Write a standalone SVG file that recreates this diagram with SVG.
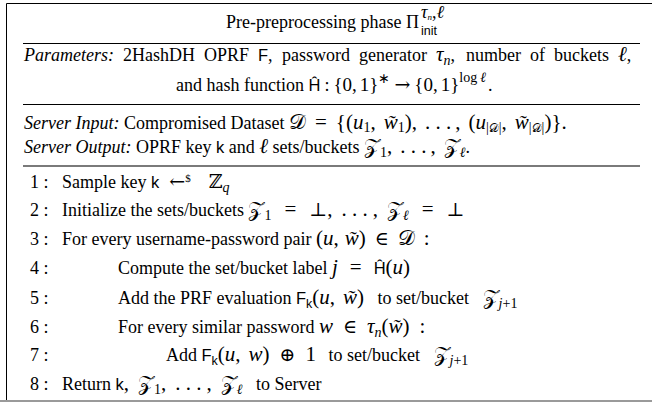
<svg xmlns="http://www.w3.org/2000/svg" width="652" height="402" viewBox="0 0 652 402">
<style>
text{font-family:"Liberation Serif","Times New Roman",serif;font-size:18px;fill:#000}
.it{font-style:italic}
.m{font-style:italic;font-size:21px}
.mr{font-size:21px;font-style:normal}
.mr2{font-size:19px;font-style:normal}
.sf{font-family:"Liberation Sans",Arial,sans-serif;font-size:16.5px;font-style:normal}
.sb{font-size:14px;font-style:normal}
.sbi{font-size:14px;font-style:italic}
.ssf{font-family:"Liberation Sans",Arial,sans-serif;font-size:12.5px;font-style:normal}
.cal{font-family:"DejaVu Serif","DejaVu Sans","Noto Sans",serif;font-style:normal;font-size:21px}
.cals{font-family:"DejaVu Serif","DejaVu Sans","Noto Sans",serif;font-style:normal;font-size:12px}
.sym{font-family:"DejaVu Serif","Liberation Serif",serif;font-size:19px;font-style:normal}
.rule{stroke:#000;stroke-width:1}
.grule{stroke:#7a7a7a;stroke-width:2}
</style>
<rect width="652" height="402" fill="#fff"/>
<g id="frame">
<path d="M6.5 402V3.5H652" fill="none" stroke="#000" stroke-width="1"/>
<line x1="0" y1="401" x2="652" y2="401" stroke="#9a9a9a" stroke-width="2"/>
<line class="rule" x1="23" y1="43.5" x2="640" y2="43.5"/>
<line class="rule" x1="23" y1="104.5" x2="640" y2="104.5"/>
<line class="grule" x1="23" y1="166" x2="640" y2="166"/>
</g>
<g id="title">
<text x="419" y="28" font-size="17px" text-anchor="end">Pre-preprocessing phase Π</text>
<text x="421" y="18" font-size="12.5px"><tspan class="it">τ</tspan><tspan class="it" font-size="9px" dy="2">n</tspan><tspan dy="-2">,</tspan><tspan class="it">ℓ</tspan></text>
<text x="421" y="35" class="ssf">init</text>
</g>
<g id="parameters">
<text y="61"><tspan x="24" class="it">Parameters:</tspan><tspan x="123">2HashDH</tspan><tspan x="204">OPRF</tspan><tspan x="258" class="sf">F</tspan><tspan>,</tspan><tspan x="282">password</tspan><tspan x="359">generator</tspan><tspan x="436" class="m">τ</tspan><tspan class="sbi" dy="4">n</tspan><tspan dy="-4">,</tspan><tspan x="466">number</tspan><tspan x="530">of</tspan><tspan x="554">buckets</tspan><tspan x="618" class="m">ℓ</tspan><tspan>,</tspan></text>
<text x="176" y="91">and hash function <tspan class="sf">Ĥ</tspan><tspan dx="4">:</tspan><tspan class="mr2" dx="4">{0,</tspan><tspan class="mr2" dx="3">1}</tspan><tspan class="sb" dy="-8">∗</tspan><tspan class="sym" dx="4" dy="8">→</tspan><tspan class="mr2" dx="4">{0,</tspan><tspan class="mr2" dx="3">1}</tspan><tspan class="sb" dy="-9">log</tspan><tspan class="sbi" dx="3">ℓ</tspan><tspan dy="9" dx="2">.</tspan></text>
</g>
<g id="server-io">
<text x="24" y="129"><tspan class="it">Server Input:</tspan> Compromised Dataset <tspan class="cal">𝒟</tspan><tspan class="mr" dx="9">=</tspan><tspan class="mr" dx="9">{(</tspan><tspan class="m">u</tspan><tspan class="sb" dy="3">1</tspan><tspan class="mr" dy="-3">,</tspan><tspan class="m" dx="8">w̃</tspan><tspan class="sb" dy="3">1</tspan><tspan class="mr" dy="-3">),</tspan><tspan class="mr" dx="8">. . .</tspan><tspan class="mr" dx="4">,</tspan><tspan class="mr" dx="8">(</tspan><tspan class="m">u</tspan><tspan class="sb" dy="3">|</tspan><tspan class="cals">𝒟</tspan><tspan class="sb">|</tspan><tspan class="mr" dy="-3">,</tspan><tspan class="m" dx="8">w̃</tspan><tspan class="sb" dy="3">|</tspan><tspan class="cals">𝒟</tspan><tspan class="sb">|</tspan><tspan class="mr" dy="-3">)}.</tspan></text>
<text x="24" y="153"><tspan class="it">Server Output:</tspan> OPRF key <tspan class="sf">k</tspan> and <tspan class="m">ℓ</tspan> sets/buckets <tspan class="cal">𝒵</tspan><tspan class="sb" dy="4">1</tspan><tspan class="mr" dy="-4">,</tspan><tspan class="mr" dx="8">. . .</tspan><tspan class="mr" dx="4">,</tspan><tspan class="cal" dx="8">𝒵</tspan><tspan class="sbi" dy="4">ℓ</tspan><tspan dy="-4">.</tspan></text>
</g>
<g id="steps">
<g id="step1"><text x="30" y="188">1 :</text><text x="62" y="188">Sample key <tspan class="sf">k</tspan><tspan class="sym" font-size="22px" dx="10">←</tspan><tspan font-size="11px" dy="-6">$</tspan><tspan class="sym" dx="18" dy="6">ℤ</tspan><tspan class="sbi" dy="4">q</tspan></text></g>
<g id="step2"><text x="30" y="216">2 :</text><text x="62" y="216">Initialize the sets/buckets <tspan class="cal">𝒵</tspan><tspan class="sb" dy="4">1</tspan><tspan class="mr" dx="13" dy="-4">=</tspan><tspan class="sym" dx="13">⊥</tspan><tspan class="mr">,</tspan><tspan class="mr" dx="9">. . .</tspan><tspan class="mr" dx="5">,</tspan><tspan class="cal" dx="9">𝒵</tspan><tspan class="sbi" dy="4">ℓ</tspan><tspan class="mr" dx="13" dy="-4">=</tspan><tspan class="sym" dx="13">⊥</tspan></text></g>
<g id="step3"><text x="30" y="245">3 :</text><text x="62" y="245">For every username-password pair <tspan class="mr">(</tspan><tspan class="m">u</tspan><tspan class="mr">,</tspan><tspan class="m" dx="6">w̃</tspan><tspan class="mr">)</tspan><tspan class="sym" dx="9">∈</tspan><tspan class="cal" dx="9">𝒟</tspan><tspan class="mr" dx="9">:</tspan></text></g>
<g id="step4"><text x="30" y="274">4 :</text><text x="118" y="274">Compute the set/bucket label <tspan class="m">j</tspan><tspan class="mr" dx="12">=</tspan><tspan class="sf" dx="12">Ĥ</tspan><tspan class="mr">(</tspan><tspan class="m">u</tspan><tspan class="mr">)</tspan></text></g>
<g id="step5"><text x="30" y="304">5 :</text><text x="118" y="304">Add the PRF evaluation <tspan class="sf">F</tspan><tspan class="ssf" dy="4">k</tspan><tspan class="mr" dy="-4">(</tspan><tspan class="m">u</tspan><tspan class="mr">,</tspan><tspan class="m" dx="8">w̃</tspan><tspan class="mr">)</tspan><tspan dx="9"> to set/bucket </tspan><tspan class="cal" dx="9">𝒵</tspan><tspan class="sbi" dy="4">j</tspan><tspan class="sb">+1</tspan></text></g>
<g id="step6"><text x="30" y="333">6 :</text><text x="118" y="333">For every similar password <tspan class="m">w</tspan><tspan class="sym" dx="10">∈</tspan><tspan class="m" dx="10">τ</tspan><tspan class="sbi" dy="4">n</tspan><tspan class="mr" dy="-4">(</tspan><tspan class="m">w̃</tspan><tspan class="mr">)</tspan><tspan class="mr" dx="10">:</tspan></text></g>
<g id="step7"><text x="30" y="361">7 :</text><text x="166" y="361">Add <tspan class="sf">F</tspan><tspan class="ssf" dy="4">k</tspan><tspan class="mr" dy="-4">(</tspan><tspan class="m">u</tspan><tspan class="mr">,</tspan><tspan class="m" dx="8">w</tspan><tspan class="mr">)</tspan><tspan class="sym" dx="10">⊕</tspan><tspan class="mr" dx="10">1</tspan><tspan dx="8"> to set/bucket </tspan><tspan class="cal" dx="9">𝒵</tspan><tspan class="sbi" dy="4">j</tspan><tspan class="sb">+1</tspan></text></g>
<g id="step8"><text x="30" y="390">8 :</text><text x="62" y="390">Return <tspan class="sf">k</tspan><tspan class="mr">,</tspan><tspan class="cal" dx="9">𝒵</tspan><tspan class="sb" dy="4">1</tspan><tspan class="mr" dy="-4">,</tspan><tspan class="mr" dx="9">. . .</tspan><tspan class="mr" dx="5">,</tspan><tspan class="cal" dx="9">𝒵</tspan><tspan class="sbi" dy="4">ℓ</tspan><tspan dy="-4" dx="9"> to Server</tspan></text></g>
</g>
</svg>
